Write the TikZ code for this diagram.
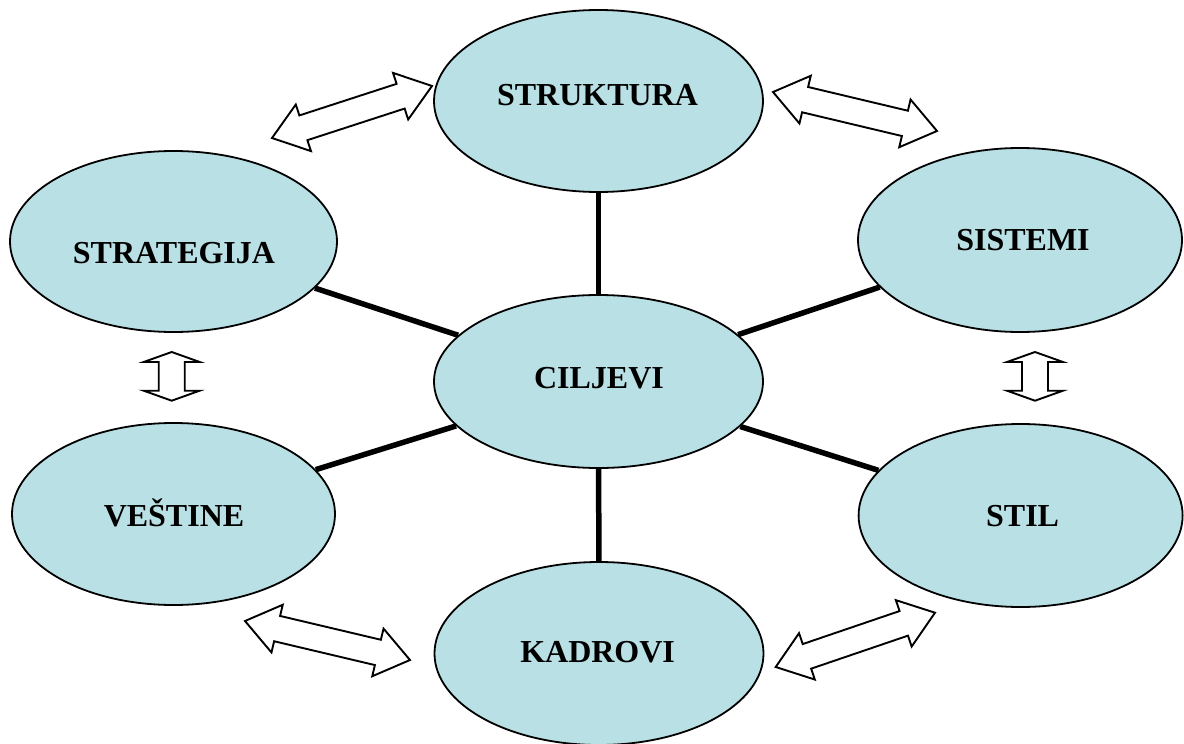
\documentclass[tikz,border=0pt]{standalone}
\usepackage{fontspec}
\setmainfont{Liberation Serif}
\usetikzlibrary{shapes.geometric,calc}
\definecolor{ovalfill}{RGB}{185,224,228}
\tikzset{
  oval/.style={ellipse, draw=black, line width=1.8pt, fill=ovalfill, inner sep=0pt},
  lbl/.style={anchor=base, font=\fontsize{32}{32}\selectfont\bfseries, inner sep=0pt},
  spoke/.style={line width=5.5pt},
  dblarr/.style={draw=black, fill=white, line width=1.9pt, line join=miter},
}
% Outlined two-headed block arrow between two named tips:
% #1,#2 tips, #3 head length, #4 head half-width, #5 shaft half-width
\newcommand\blockarrow[5]{%
  \coordinate (ba-h1) at ($(#1)!#3!(#2)$);
  \coordinate (ba-h2) at ($(#2)!#3!(#1)$);
  \draw[dblarr] (#1)
    -- ($(ba-h1)!#4!90:(#2)$) -- ($(ba-h1)!#5!90:(#2)$)
    -- ($(ba-h2)!#5!-90:(#1)$) -- ($(ba-h2)!#4!-90:(#1)$)
    -- (#2)
    -- ($(ba-h2)!#4!90:(#1)$) -- ($(ba-h2)!#5!90:(#1)$)
    -- ($(ba-h1)!#5!-90:(#2)$) -- ($(ba-h1)!#4!-90:(#2)$)
    -- cycle;}
\begin{document}
\begin{tikzpicture}[x=1pt, y=-1pt]
  \useasboundingbox (0,0) rectangle (1184,744);

  % ovals
  \node[oval, minimum width=329pt, minimum height=182pt] (struktura)  at (598.5,101)   {};
  \node[oval, minimum width=327pt, minimum height=181pt] (strategija) at (173.5,241.5) {};
  \node[oval, minimum width=324pt, minimum height=184pt] (sistemi)    at (1020,240)    {};
  \node[oval, minimum width=329pt, minimum height=173pt] (ciljevi)    at (598.5,381.5) {};
  \node[oval, minimum width=323pt, minimum height=182pt] (vestine)    at (173.5,514)   {};
  \node[oval, minimum width=324pt, minimum height=183pt] (stil)       at (1020.6,515.5){};
  \node[oval, minimum width=329pt, minimum height=183pt] (kadrovi)    at (599,653.5)   {};

  % labels
  \node[lbl] (t-struktura)  at (597.5,105)   {STRUKTURA};
  \node[lbl] (t-strategija) at (174,263)     {STRATEGIJA};
  \node[lbl] (t-sistemi)    at (1023,250)    {SISTEMI};
  \node[lbl] (t-ciljevi)    at (599,388)     {CILJEVI};
  \node[lbl] (t-vestine)    at (174,526)     {VEŠTINE};
  \node[lbl] (t-stil)       at (1022.6,526)  {STIL};
  \node[lbl] (t-kadrovi)    at (597.6,662.7) {KADROVI};

  % spokes from the centre
  \draw[spoke] (ciljevi) -- (struktura);
  \draw[spoke] (ciljevi) -- (strategija);
  \draw[spoke] (ciljevi) -- (sistemi);
  \draw[spoke] (ciljevi) -- (vestine);
  \draw[spoke] (ciljevi) -- (stil);
  \draw[spoke] (ciljevi) -- (kadrovi);

  % tips of the two-headed arrows around the ring
  \coordinate (a1s) at (272,138);     \coordinate (a1e) at (432,86);
  \coordinate (a2s) at (773,92);      \coordinate (a2e) at (937,131);
  \coordinate (a3s) at (171.7,352);   \coordinate (a3e) at (171.7,400.7);
  \coordinate (a4s) at (1035,352);    \coordinate (a4e) at (1035,400.7);
  \coordinate (a5s) at (245,621);     \coordinate (a5e) at (410,660);
  \coordinate (a6s) at (775.7,667);   \coordinate (a6e) at (935,612.7);

  \blockarrow{a1s}{a1e}{33pt}{24.5pt}{13pt}
  \blockarrow{a2s}{a2e}{33pt}{24.5pt}{13pt}
  \blockarrow{a3s}{a3e}{10pt}{28pt}{13pt}
  \blockarrow{a4s}{a4e}{10pt}{28pt}{13pt}
  \blockarrow{a5s}{a5e}{33pt}{24.5pt}{13pt}
  \blockarrow{a6s}{a6e}{33pt}{24.5pt}{13pt}
\end{tikzpicture}
\end{document}
